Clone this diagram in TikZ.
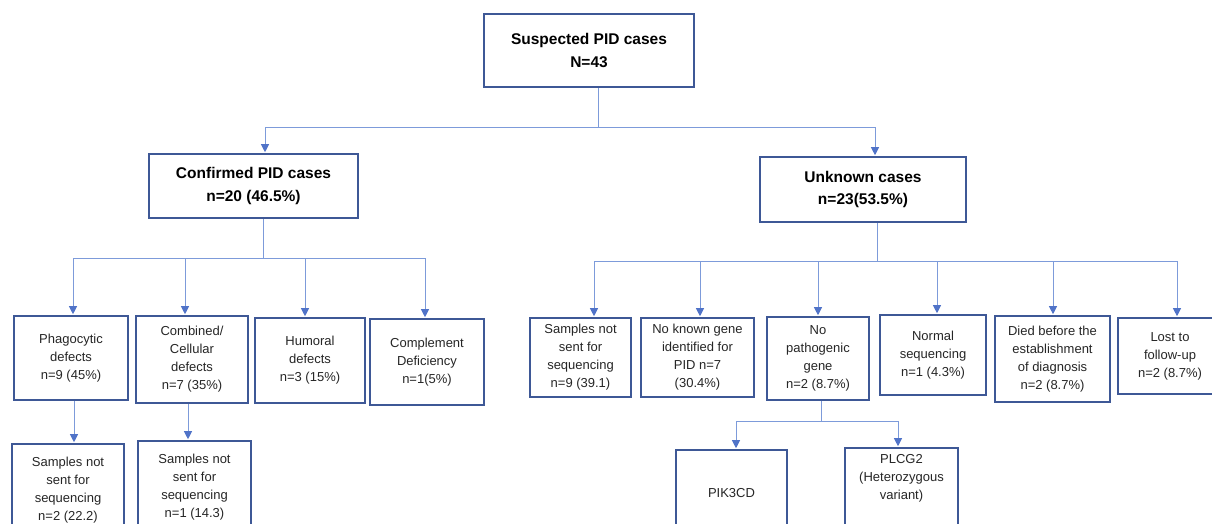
\documentclass[tikz,border=0pt]{standalone}
\usepackage{fontspec}
\setmainfont{Liberation Sans}
\usetikzlibrary{arrows.meta}
\definecolor{linec}{RGB}{125,155,218}
\definecolor{arrc}{RGB}{80,115,200}
\definecolor{boxc}{RGB}{62,88,150}
\tikzset{
  box/.style={draw=boxc, line width=1.6pt, fill=white, align=center, inner sep=2pt,
    font=\fontsize{13}{18}\selectfont, text=black!85},
  bigbox/.style={box, font=\bfseries\fontsize{15.5}{22.5}\selectfont, text=black},
  ln/.style={draw=linec, line width=0.9pt},
  arr/.style={ln, -{Triangle[length=8pt,width=8pt,color=arrc]}, shorten >=1pt},
}
\begin{document}
\begin{tikzpicture}[x=1pt,y=-1pt]
\clip (0,0) rectangle (1212,523);
\fill[white] (0,0) rectangle (1212,523);
% level 0/1
\node[bigbox, minimum width=210pt, minimum height=73pt] (top) at (589,50.5) {Suspected PID cases\\N=43};
\node[bigbox, minimum width=209pt, minimum height=64pt] (conf) at (253.5,186) {Confirmed PID cases\\n=20 (46.5\%)};
\node[bigbox, minimum width=206pt, minimum height=65pt] (unk) at (863,189.5) {Unknown cases\\n=23(53.5\%)};
% level 2 left
\node[box, minimum width=114pt, minimum height=84pt] (phag) at (71,358) {Phagocytic\\defects\\n=9 (45\%)};
\node[box, minimum width=112pt, minimum height=87pt] (comb) at (192,359.5) {Combined/\\Cellular\\defects\\n=7 (35\%)};
\node[box, minimum width=110pt, minimum height=85pt] (hum) at (310,360.5) {Humoral\\defects\\n=3 (15\%)};
\node[box, minimum width=114pt, minimum height=86pt] (comp) at (427,362) {Complement\\Deficiency\\n=1(5\%)};
% level 3 left
\node[box, minimum width=112pt, minimum height=92pt] (s1) at (68,490) {Samples not\\sent for\\sequencing\\n=2 (22.2)};
\node[box, minimum width=113pt, minimum height=92pt] (s2) at (194.5,487) {Samples not\\sent for\\sequencing\\n=1 (14.3)};
% level 2 right
\node[box, minimum width=101pt, minimum height=79pt] (r1) at (580.5,357.5) {Samples not\\sent for\\sequencing\\n=9 (39.1)};
\node[box, minimum width=113pt, minimum height=79pt] (r2) at (697.5,357.5) {No known gene\\identified for\\PID n=7\\(30.4\%)};
\node[box, minimum width=102pt, minimum height=83pt] (r3) at (818,358.5) {No\\pathogenic\\gene\\n=2 (8.7\%)};
\node[box, minimum width=106pt, minimum height=80pt] (r4) at (933,355) {Normal\\sequencing\\n=1 (4.3\%)};
\node[box, minimum width=115pt, minimum height=86pt] (r5) at (1052.5,359) {Died before the\\establishment\\of diagnosis\\n=2 (8.7\%)};
\node[box, minimum width=104pt, minimum height=76pt] (r6) at (1170,356) {Lost to\\follow-up\\n=2 (8.7\%)};
% level 3 right
\node[box, minimum width=111pt, minimum height=86pt] (g1) at (731.5,493) {PIK3CD};
\node[box, minimum width=113pt, minimum height=94pt] (g2) at (901.5,495) {PLCG2\\(Heterozygous\\variant)\\~\\~};
% junctions
\coordinate (j0) at (598,127);
\coordinate (a0) at (265,127);
\coordinate (b0) at (875,127);
\draw[ln] (top.south -| j0) -- (j0);
\draw[ln] (a0) -- (b0);
\draw[arr] (a0) -- (a0 |- conf.north);
\draw[arr] (b0) -- (b0 |- unk.north);
% confirmed branch
\coordinate (j1) at (263,258);
\coordinate (c1) at (73,258);
\coordinate (c2) at (185,258);
\coordinate (c3) at (305,258);
\coordinate (c4) at (425,258);
\draw[ln] (conf.south -| j1) -- (j1);
\draw[ln] (c1) -- (c4);
\draw[arr] (c1) -- (c1 |- phag.north);
\draw[arr] (c2) -- (c2 |- comb.north);
\draw[arr] (c3) -- (c3 |- hum.north);
\draw[arr] (c4) -- (c4 |- comp.north);
\coordinate (d1) at (74,402);
\coordinate (d2) at (188,403);
\draw[arr] (phag.south -| d1) -- (d1 |- s1.north);
\draw[arr] (comb.south -| d2) -- (d2 |- s2.north);
% unknown branch
\coordinate (j2) at (877,261);
\coordinate (e1) at (594,261);
\coordinate (e2) at (700,261);
\coordinate (e3) at (818,261);
\coordinate (e4) at (937,261);
\coordinate (e5) at (1053,261);
\coordinate (e6) at (1177,261);
\draw[ln] (unk.south -| j2) -- (j2);
\draw[ln] (e1) -- (e6);
\draw[arr] (e1) -- (e1 |- r1.north);
\draw[arr] (e2) -- (e2 |- r2.north);
\draw[arr] (e3) -- (e3 |- r3.north);
\draw[arr] (e4) -- (e4 |- r4.north);
\draw[arr] (e5) -- (e5 |- r5.north);
\draw[arr] (e6) -- (e6 |- r6.north);
% gene branch
\coordinate (j3) at (821,421);
\coordinate (f1) at (736,421);
\coordinate (f2) at (898,421);
\draw[ln] (r3.south -| j3) -- (j3);
\draw[ln] (f1) -- (f2);
\draw[arr] (f1) -- (f1 |- g1.north);
\draw[arr] (f2) -- (f2 |- g2.north);
\end{tikzpicture}
\end{document}
